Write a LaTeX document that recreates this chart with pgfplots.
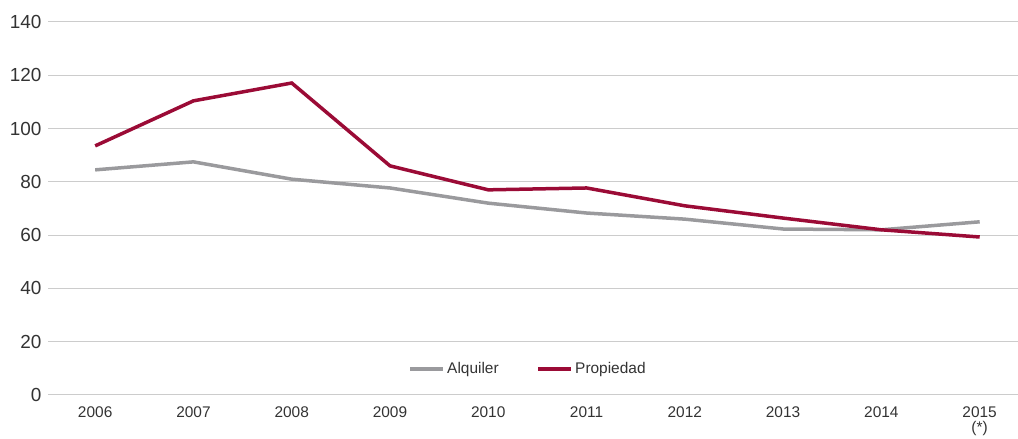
\documentclass[border=0pt]{standalone}
\usepackage{pgfplots}
\pgfplotsset{compat=1.18}
\usepackage{fontspec}
\setmainfont{Liberation Sans}
\definecolor{grayline}{HTML}{9A9A9D}
\definecolor{redline}{HTML}{9B0B36}
\definecolor{gridc}{HTML}{CCCCCC}
\definecolor{txt}{HTML}{333333}
\begin{document}
\begin{tikzpicture}[x=1bp,y=1bp]
\useasboundingbox (0,0) rectangle (1018,439);
\begin{axis}[
  at={(48bp,44bp)}, anchor=south west,
  scale only axis, width=970bp, height=373bp,
  xmin=2005.52, xmax=2015.39,
  ymin=0, ymax=140,
  ytick={0,20,...,140},
  xtick={2006,...,2015},
  xticklabels={2006,2007,2008,2009,2010,2011,2012,2013,2014,{2015\\[-2bp](*)}},
  x tick label style={align=center, font=\fontsize{15.5}{17}\selectfont, text=txt, anchor=north, yshift=-8bp},
  y tick label style={font=\fontsize{19}{19}\selectfont, text=txt, xshift=-3bp},
  /pgf/number format/assume math mode=true,
  axis line style={draw=none},
  major tick length=0pt,
  ymajorgrids, grid style={gridc, line width=1bp},
  legend style={at={(0.495,0.07)}, anchor=center, draw=none, fill=none, legend columns=2,
    font=\fontsize{15.5}{15}\selectfont, text=txt,
    /tikz/every even column/.append style={column sep=36bp}},
  legend image code/.code={\draw[#1, line width=3.5bp] (0bp,0bp) -- (33bp,0bp);},
  clip=false,
]
\addplot[grayline, line width=3.5bp] coordinates {
(2006,84.5) (2007,87.5) (2008,81) (2009,77.7) (2010,72) (2011,68.3) (2012,66) (2013,62.3) (2014,62) (2015,65)};
\addlegendentry{Alquiler}
\addplot[redline, line width=3.5bp] coordinates {
(2006,93.5) (2007,110.4) (2008,117.1) (2009,86) (2010,77) (2011,77.7) (2012,71) (2013,66.4) (2014,62) (2015,59.3)};
\addlegendentry{Propiedad}
\end{axis}
\end{tikzpicture}
\end{document}
